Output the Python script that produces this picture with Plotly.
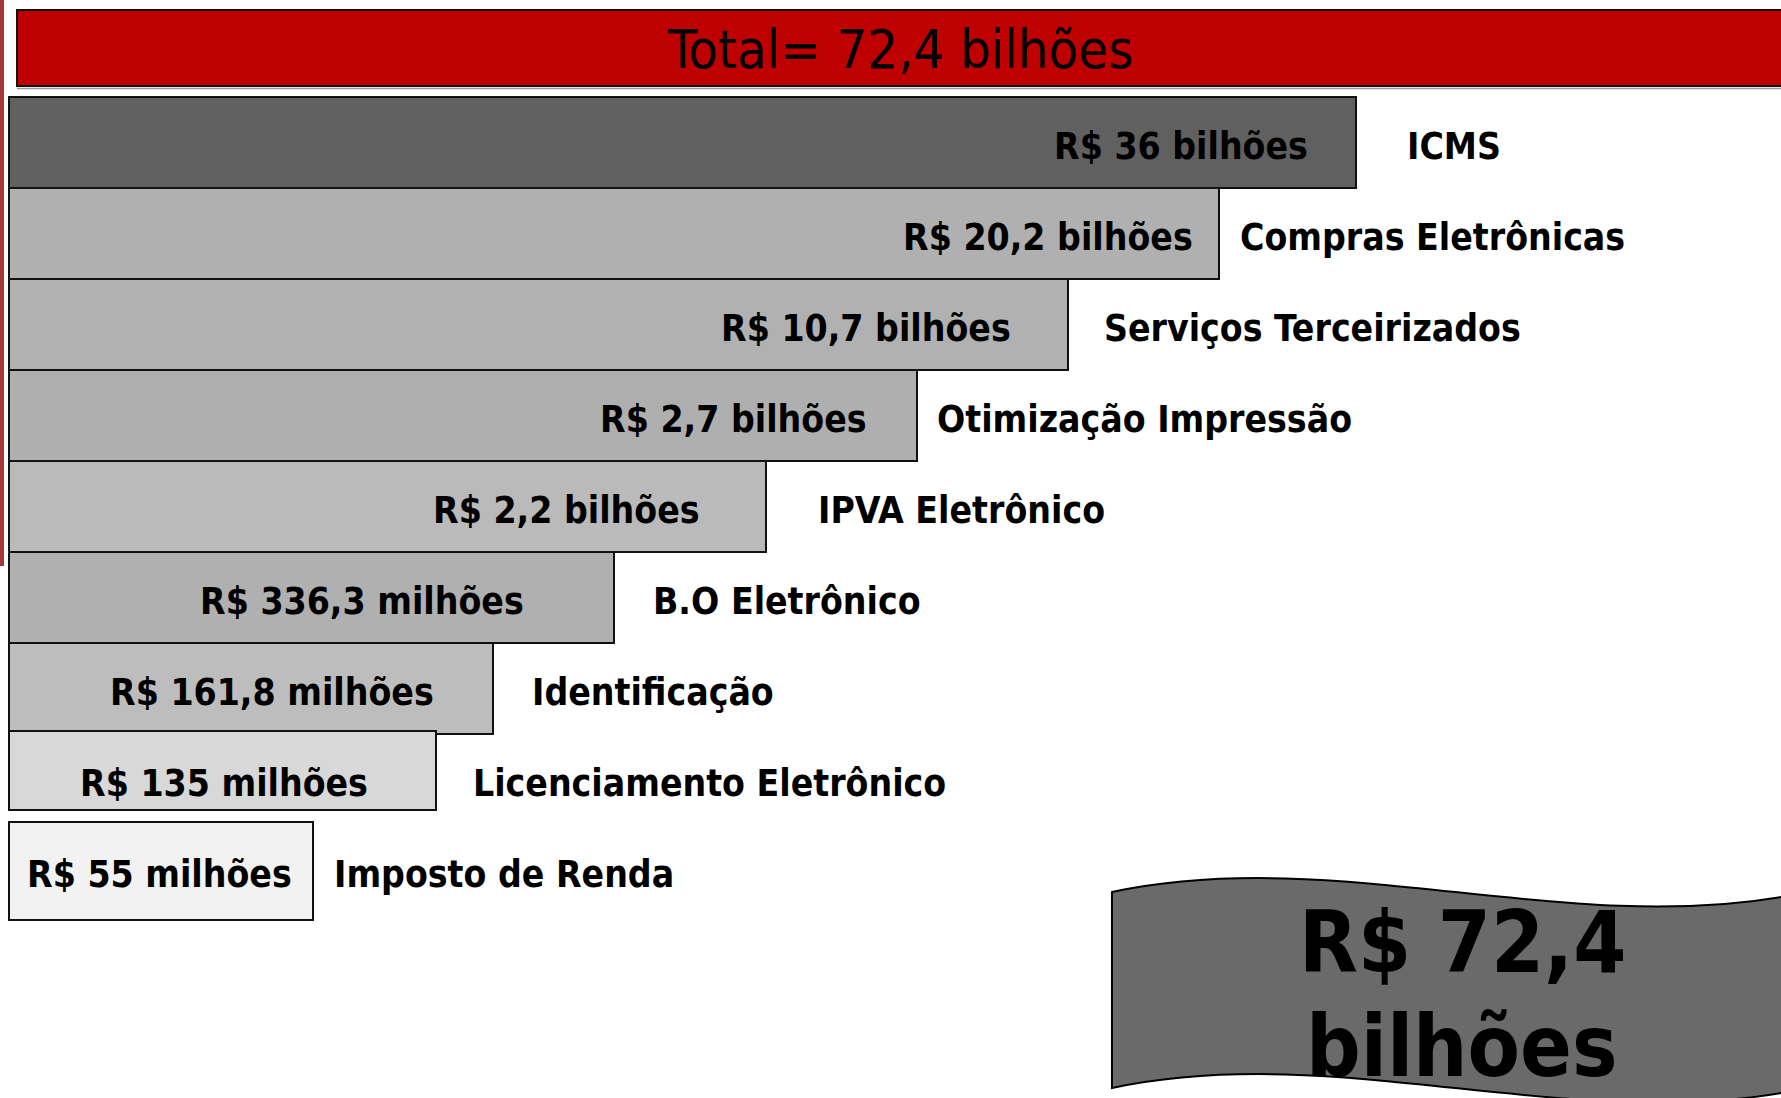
import plotly.graph_objects as go

# ---------------- data ----------------
categories = ["ICMS", "Compras Eletrônicas", "Serviços Terceirizados",
              "Otimização Impressão", "IPVA Eletrônico", "B.O Eletrônico",
              "Identificação", "Licenciamento Eletrônico", "Imposto de Renda"]
value_labels = ["R$ 36 bilhões", "R$ 20,2 bilhões", "R$ 10,7 bilhões",
                "R$ 2,7 bilhões", "R$ 2,2 bilhões", "R$ 336,3 milhões",
                "R$ 161,8 milhões", "R$ 135 milhões", "R$ 55 milhões"]
# drawn (stepped, non-proportional) bar lengths
bar_lengths = [1347, 1210, 1059, 908, 757, 605, 484, 427, 304]
total_label = "Total= 72,4 bilhões"
banner_lines = ["R$ 72,4", "bilhões"]

# ---------------- styles ----------------
W, H = 1781, 1098
bar_colors = ["#606060", "#b0b0b0", "#b1b1b1", "#afafaf", "#bababa",
              "#b0b0b0", "#bdbdbd", "#d8d8d8", "#f2f2f2"]
bar_width = [1, 1, 1, 1, 1, 1, 1, 0.868, 1.077]
bar_offset = [-0.5, -0.5, -0.5, -0.5, -0.5, -0.5, -0.5, -0.533, -0.533]
value_pad = [46, 24, 55, 48, 64, 88, 57, 66, 19]
label_gap = [49, 19, 34, 18, 50, 37, 37, 35, 19]
FONT = "DejaVu Sans Condensed, DejaVu Sans, sans-serif"


def px(x):
    return x / W


def py(y):
    return 1 - y / H


fig = go.Figure()
fig.add_trace(go.Bar(
    orientation="h",
    y=categories,
    x=bar_lengths,
    base=0,
    width=bar_width,
    offset=bar_offset,
    marker=dict(color=bar_colors, line=dict(color="#111111", width=2)),
    hoverinfo="skip",
    showlegend=False,
))

annotations = []
for cat, lab, L, pad, gap in zip(categories, value_labels, bar_lengths,
                                 value_pad, label_gap):
    annotations.append(dict(
        x=L - pad, y=cat, xref="x", yref="y", text=lab, showarrow=False,
        xanchor="right", yanchor="middle", yshift=-4,
        font=dict(family=FONT, size=37, color="#000000", weight="bold")))
    annotations.append(dict(
        x=L + gap, y=cat, xref="x", yref="y", text=cat, showarrow=False,
        xanchor="left", yanchor="middle", yshift=-4,
        font=dict(family=FONT, size=37, color="#000000", weight="bold")))

annotations.append(dict(
    x=px(900), y=py(50), xref="paper", yref="paper", text=total_label,
    showarrow=False, xanchor="center", yanchor="middle",
    font=dict(family=FONT, size=54, color="#000000")))
annotations.append(dict(
    x=px(1462), y=py(942), xref="paper", yref="paper", text=banner_lines[0],
    showarrow=False, xanchor="center", yanchor="middle",
    font=dict(family=FONT, size=85, color="#000000", weight="bold")))
annotations.append(dict(
    x=px(1462), y=py(1046), xref="paper", yref="paper", text=banner_lines[1],
    showarrow=False, xanchor="center", yanchor="middle",
    font=dict(family=FONT, size=85, color="#000000", weight="bold")))


def P(x, y):
    return f"{px(x):.5f},{py(y):.5f}"


banner_path = ("M " + P(1112, 892) +
               " C " + P(1335, 845) + " " + P(1558, 935) + " " + P(1781, 897) +
               " L " + P(1800, 897) + " L " + P(1800, 1093) + " L " + P(1781, 1093) +
               " C " + P(1558, 1131) + " " + P(1335, 1041) + " " + P(1112, 1088) +
               " Z")

shapes = [
    # left dark red edge line
    dict(type="rect", xref="paper", yref="paper", x0=px(0), x1=px(4),
         y0=py(566), y1=py(0), fillcolor="#a33a3a", line=dict(width=0)),
    # title bar shadow line
    dict(type="line", xref="paper", yref="paper", x0=px(17), x1=px(1800),
         y0=py(88.5), y1=py(88.5), line=dict(color="#9a9a9a", width=1.5)),
    # title bar
    dict(type="rect", xref="paper", yref="paper", x0=px(17), x1=px(1800),
         y0=py(86), y1=py(10), fillcolor="#be0000",
         line=dict(color="#111111", width=2)),
    # banner
    dict(type="path", xref="paper", yref="paper", path=banner_path,
         fillcolor="#6a6a6a", line=dict(color="#000000", width=2)),
]

fig.update_layout(
    width=W, height=H,
    margin=dict(l=0, r=0, t=0, b=0, pad=0),
    paper_bgcolor="#ffffff", plot_bgcolor="#ffffff",
    xaxis=dict(range=[-9, W - 9], visible=False, fixedrange=True),
    yaxis=dict(range=[10.5, -1.566], visible=False, fixedrange=True,
               type="category"),
    shapes=shapes,
    annotations=annotations,
    showlegend=False,
)

fig.write_html(
    "out.html",
    config={"displayModeBar": False},
    post_script="document.body.style.margin='0';document.body.style.overflow='hidden';",
)
